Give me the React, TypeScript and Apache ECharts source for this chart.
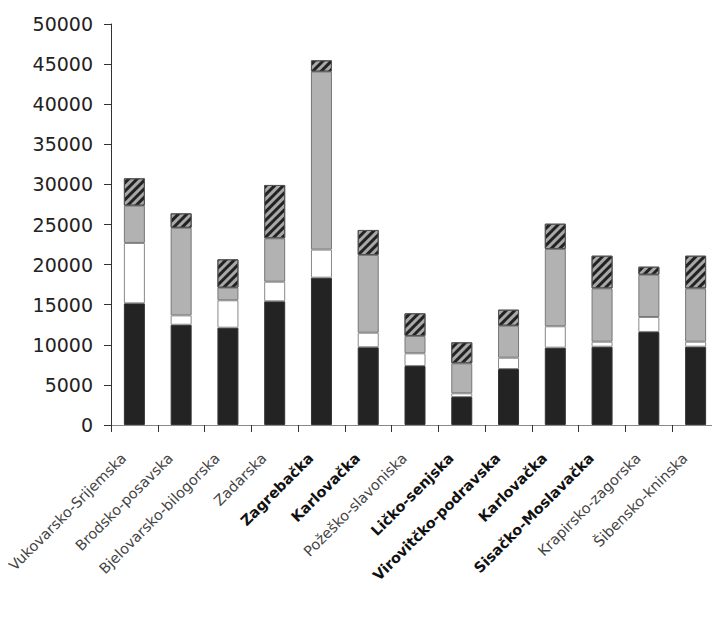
import React, { useEffect, useRef } from "react";
import * as echarts from "echarts";

const categories = [
  "Vukovarsko-Srijemska",
  "Brodsko-posavska",
  "Bjelovarsko-bilogorska",
  "Zadarska",
  "Zagrebačka",
  "Karlovačka",
  "Požeško-slavoniska",
  "Ličko-senjska",
  "Virovitčko-podravska",
  "Karlovačka",
  "Sisačko-Moslavačka",
  "Krapirsko-zagorska",
  "Šibensko-kninska",
];
const boldIdx = [4, 5, 7, 8, 9, 10];

const blackVals = [15170, 12500, 12130, 15420, 18370, 9690, 7360, 3490, 6980, 9640, 9760, 11600, 9760];
const whiteVals = [7530, 1170, 3420, 2450, 3500, 1820, 1580, 460, 1410, 2670, 630, 1870, 630];
const grayVals = [4650, 10920, 1570, 5410, 22190, 9690, 2160, 3740, 3990, 9640, 6650, 5270, 6650];
const hatchVals = [3410, 1800, 3540, 6650, 1410, 3120, 2830, 2620, 2000, 3150, 4070, 1000, 4070];

const yTicks = { min: 0, max: 50000, interval: 5000 };

export default function App() {
  const ref = useRef<HTMLDivElement>(null);
  useEffect(() => {
    if (!ref.current) return;
    const chart = echarts.init(ref.current, null, { renderer: "svg" });
    const font = "DejaVu Sans";
    const mk = (name: string, data: number[], color: string, border: string, extra: any = {}) => ({
      name,
      type: "bar",
      stack: "total",
      data,
      barWidth: 21,
      itemStyle: { color, borderColor: border, borderWidth: 1, ...extra },
    });
    chart.setOption({
      animation: false,
      backgroundColor: "#ffffff",
      grid: { left: 111, right: 1, top: 24, bottom: 201, containLabel: false },
      xAxis: {
        type: "category",
        data: categories,
        axisLine: { lineStyle: { color: "#888", width: 1 } },
        axisTick: { show: true, length: 7, lineStyle: { color: "#333" } },
        axisLabel: {
          rotate: 45,
          interval: 0,
          margin: 20,
          padding: [0, 15, 0, 0],
          fontFamily: font,
          fontSize: 14.5,
          color: "#444",
          formatter: (v: string, i: number) => (boldIdx.includes(i) ? `{b|${v}}` : v),
          rich: {
            b: { fontFamily: font, fontSize: 14.5, fontWeight: "bold", color: "#111" },
          },
        },
      },
      yAxis: {
        type: "value",
        min: yTicks.min,
        max: yTicks.max,
        interval: yTicks.interval,
        axisLine: { show: true, lineStyle: { color: "#333", width: 1 } },
        axisTick: { show: true, length: 7, lineStyle: { color: "#333" } },
        splitLine: { show: false },
        axisLabel: {
          fontFamily: font,
          fontSize: 19,
          color: "#222",
          margin: 18,
          formatter: (v: number) => String(v),
        },
      },
      series: [
        mk("s1", blackVals, "#232323", "#333"),
        mk("s2", whiteVals, "#ffffff", "#888"),
        mk("s3", grayVals, "#b2b2b2", "#777"),
        mk("s4", hatchVals, "#a8a8a8", "#555", {
          decal: {
            symbol: "rect",
            symbolSize: 1,
            color: "#222",
            backgroundColor: "#a8a8a8",
            dashArrayX: [1, 0],
            dashArrayY: [2.5, 3],
            rotation: -Math.PI / 4,
          },
        }),
      ],
    });
    return () => chart.dispose();
  }, []);
  return <div ref={ref} style={{ width: 720, height: 626, margin: -8 }} />;
}
